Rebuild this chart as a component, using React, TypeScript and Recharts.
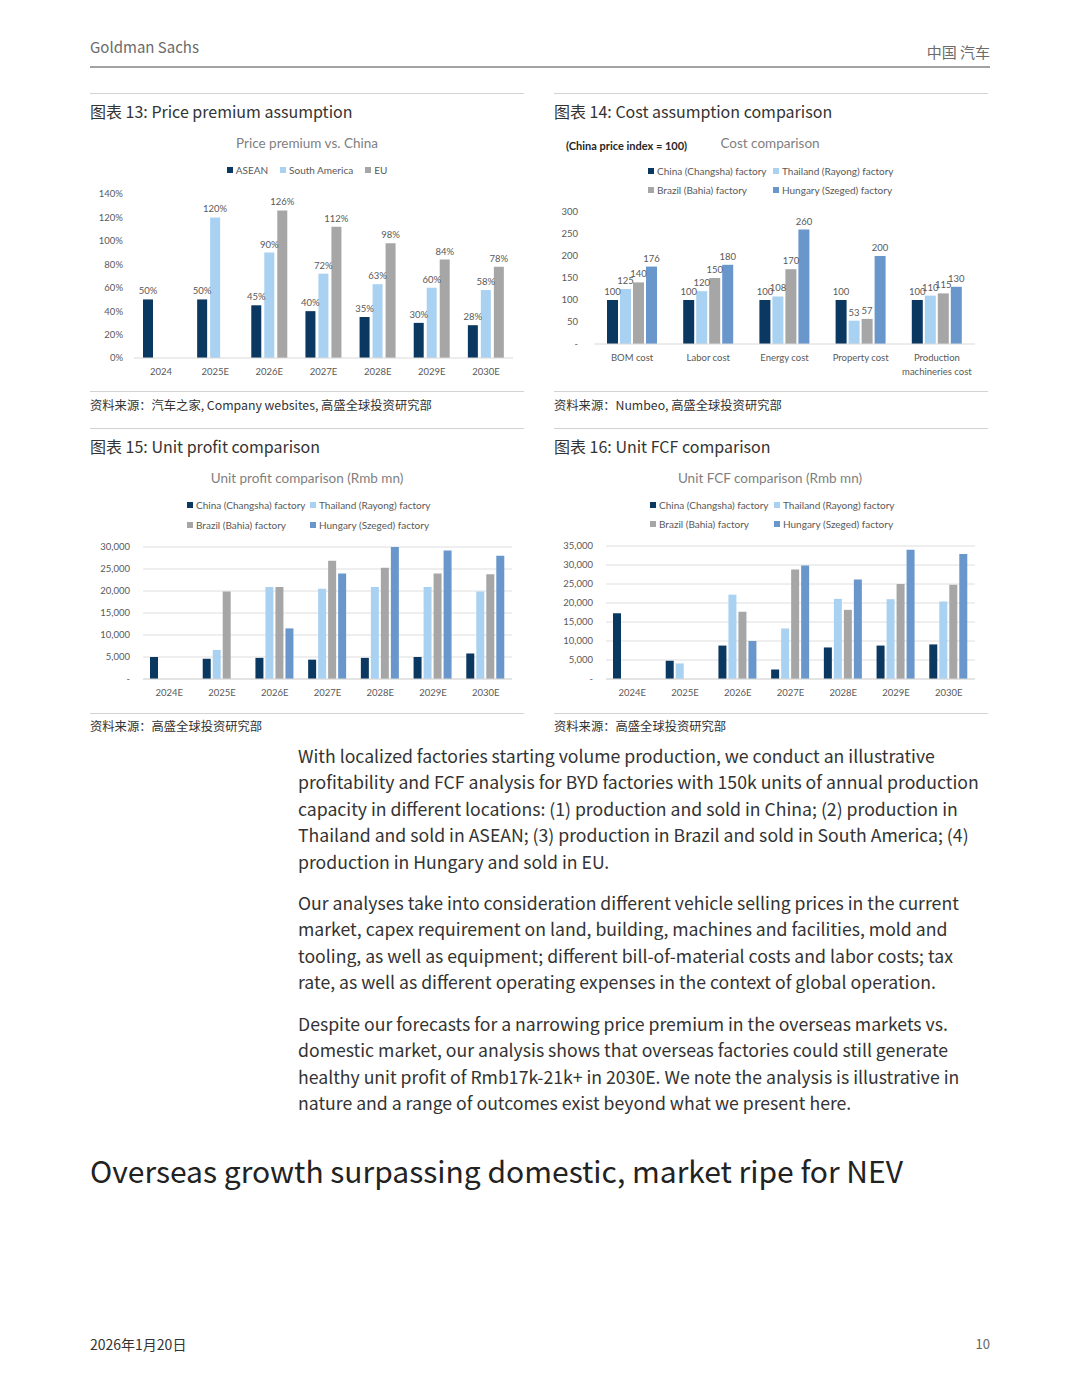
import React from 'react';
import { BarChart, Bar, XAxis, YAxis, CartesianGrid, LabelList, Legend } from 'recharts';

// ---------- Colours ----------
const NAVY = '#0b3861';
const LIGHT = '#a9d1f1';
const GRAY = '#a6a6a6';
const MID = '#6a97cb';
const AXIS_TEXT = '#595959';
const FONT_PAGE = '"Noto Sans CJK SC", "Noto Sans", sans-serif';
const FONT_CHART = 'Lato, "Liberation Sans", sans-serif';

// ---------- Chart 13: Price premium ----------
const premiumYears = ['2024', '2025E', '2026E', '2027E', '2028E', '2029E', '2030E'];
const aseanPremium = [50, 50, 45, 40, 35, 30, 28];
const southAmericaPremium = [null, 120, 90, 72, 63, 60, 58];
const euPremium = [null, null, 126, 112, 98, 84, 78];
const premiumTicks = [0, 20, 40, 60, 80, 100, 120, 140];

// ---------- Chart 14: Cost comparison ----------
const costCategories = ['BOM cost', 'Labor cost', 'Energy cost', 'Property cost', 'Production machineries cost'];
const costTickLabels = [['BOM cost'], ['Labor cost'], ['Energy cost'], ['Property cost'], ['Production', 'machineries cost']];
const chinaCost = [100, 100, 100, 100, 100];
const thailandCost = [125, 120, 108, 53, 110];
const brazilCost = [140, 150, 170, 57, 115];
const hungaryCost = [176, 180, 260, 200, 130];
const costTicks = [0, 50, 100, 150, 200, 250, 300];

// ---------- Chart 15: Unit profit ----------
const profitYears = ['2024E', '2025E', '2026E', '2027E', '2028E', '2029E', '2030E'];
const chinaProfit = [5000, 4600, 4800, 4400, 4800, 5000, 5800];
const thailandProfit = [null, 6600, 20900, 20500, 20900, 20900, 19900];
const brazilProfit = [null, 19900, 20900, 26900, 25300, 24000, 23800];
const hungaryProfit = [null, null, 11500, 24000, 30000, 29200, 28000];
const profitTicks = [0, 5000, 10000, 15000, 20000, 25000, 30000];

// ---------- Chart 16: Unit FCF ----------
const fcfYears = ['2024E', '2025E', '2026E', '2027E', '2028E', '2029E', '2030E'];
const chinaFcf = [17300, 4800, 8800, 2500, 8300, 8800, 9100];
const thailandFcf = [null, 4100, 22200, 13300, 21100, 21000, 20400];
const brazilFcf = [null, null, 17700, 28800, 18200, 25000, 24800];
const hungaryFcf = [null, null, 10000, 29900, 26200, 34000, 32900];
const fcfTicks = [0, 5000, 10000, 15000, 20000, 25000, 30000, 35000];

const factoryNames = ['China (Changsha) factory', 'Thailand (Rayong) factory', 'Brazil (Bahia) factory', 'Hungary (Szeged) factory'];

const premiumData = premiumYears.map((y, i) => ({
  year: y,
  asean: aseanPremium[i],
  sa: southAmericaPremium[i],
  eu: euPremium[i],
}));
const costData = costCategories.map((c, i) => ({
  cat: c,
  idx: i,
  china: chinaCost[i],
  thailand: thailandCost[i],
  brazil: brazilCost[i],
  hungary: hungaryCost[i],
}));
const profitData = profitYears.map((y, i) => ({
  year: y,
  china: chinaProfit[i],
  thailand: thailandProfit[i],
  brazil: brazilProfit[i],
  hungary: hungaryProfit[i],
}));
const fcfData = fcfYears.map((y, i) => ({
  year: y,
  china: chinaFcf[i],
  thailand: thailandFcf[i],
  brazil: brazilFcf[i],
  hungary: hungaryFcf[i],
}));

type LItem = { name: string; color: string };

const makeLegend = (rows: LItem[][], rowTops: number[], colLefts: number[] | null, width: number) => () => (
  <div style={{ position: 'relative', width, height: 80, fontFamily: FONT_CHART, fontSize: 10, color: AXIS_TEXT }}>
    {rows.map((row, r) => (
      <div
        key={r}
        style={{
          position: 'absolute',
          top: rowTops[r] - 6,
          left: 0,
          width,
          height: 12,
          lineHeight: '12px',
          display: colLefts ? 'block' : 'flex',
          justifyContent: 'center',
          gap: 12,
        }}
      >
        {row.map((it, i) => (
          <span
            key={i}
            style={
              colLefts
                ? { position: 'absolute', left: colLefts[i], top: 0, whiteSpace: 'nowrap', display: 'flex', alignItems: 'center' }
                : { whiteSpace: 'nowrap', display: 'flex', alignItems: 'center' }
            }
          >
            <span style={{ width: 6, height: 6, background: it.color, marginRight: 3, display: 'inline-block' }} />
            {it.name}
          </span>
        ))}
      </div>
    ))}
  </div>
);

const tickStyle = { fontSize: 9.5, fill: AXIS_TEXT, fontFamily: FONT_CHART };
const labelStyle = { fontSize: 9.5, fill: AXIS_TEXT, fontFamily: FONT_CHART };

const fmtThousands = (v: number) => (v === 0 ? '-' : v.toLocaleString('en-US'));

const CostTick = (props: any) => {
  const { x, y, payload } = props;
  const lines = costTickLabels[payload.index] || [String(payload.value)];
  return (
    <text x={x} y={y} textAnchor="middle" fill={AXIS_TEXT} fontSize={9.5} fontFamily={FONT_CHART}>
      {lines.map((l, i) => (
        <tspan key={i} x={x} dy={i === 0 ? '0.71em' : 14}>
          {l}
        </tspan>
      ))}
    </text>
  );
};

const abs = (left: number, top: number, extra: React.CSSProperties = {}): React.CSSProperties => ({
  position: 'absolute',
  left,
  top,
  ...extra,
});

const Rule = ({ x, y, w, color = '#d3d3d3', h = 1 }: { x: number; y: number; w: number; color?: string; h?: number }) => (
  <div style={abs(x, y, { width: w, height: h, background: color })} />
);

const PanelTitle = ({ x, y, text }: { x: number; y: number; text: string }) => (
  <div style={abs(x, y, { fontFamily: FONT_PAGE, fontSize: 16, color: '#333', whiteSpace: 'nowrap', lineHeight: '20px' })}>{text}</div>
);

const Source = ({ x, y, text }: { x: number; y: number; text: string }) => (
  <div style={abs(x, y, { fontFamily: FONT_PAGE, fontSize: 12.3, color: '#333', whiteSpace: 'nowrap', lineHeight: '16px' })}>{text}</div>
);

const ChartTitle = ({ cx, cy, text }: { cx: number; cy: number; text: string }) => (
  <div
    style={abs(cx - 150, cy - 8, {
      width: 300,
      textAlign: 'center',
      fontFamily: FONT_CHART,
      fontSize: 13.5,
      color: '#7f7f7f',
      lineHeight: '16px',
      whiteSpace: 'nowrap',
    })}
  >
    {text}
  </div>
);

const para1 = [
  'With localized factories starting volume production, we conduct an illustrative',
  'profitability and FCF analysis for BYD factories with 150k units of annual production',
  'capacity in different locations: (1) production and sold in China; (2) production in',
  'Thailand and sold in ASEAN; (3) production in Brazil and sold in South America; (4)',
  'production in Hungary and sold in EU.',
];
const para2 = [
  'Our analyses take into consideration different vehicle selling prices in the current',
  'market, capex requirement on land, building, machines and facilities, mold and',
  'tooling, as well as equipment; different bill-of-material costs and labor costs; tax',
  'rate, as well as different operating expenses in the context of global operation.',
];
const para3 = [
  'Despite our forecasts for a narrowing price premium in the overseas markets vs.',
  'domestic market, our analysis shows that overseas factories could still generate',
  'healthy unit profit of Rmb17k-21k+ in 2030E. We note the analysis is illustrative in',
  'nature and a range of outcomes exist beyond what we present here.',
];

const Para = ({ top, lines }: { top: number; lines: string[] }) => (
  <div style={abs(298, top, { fontFamily: FONT_PAGE, fontSize: 17.65, color: '#333', lineHeight: '26.4px', whiteSpace: 'nowrap' })}>
    {lines.map((l, i) => (
      <div key={i}>{l}</div>
    ))}
  </div>
);

export default function App() {
  const factoryItems: LItem[] = [
    { name: factoryNames[0], color: NAVY },
    { name: factoryNames[1], color: LIGHT },
    { name: factoryNames[2], color: GRAY },
    { name: factoryNames[3], color: MID },
  ];
  const factoryRows = [
    [factoryItems[0], factoryItems[1]],
    [factoryItems[2], factoryItems[3]],
  ];

  return (
    <div style={{ position: 'absolute', left: 0, top: 0, width: 1080, height: 1397, background: '#fff', overflow: 'hidden' }}>
      {/* Header */}
      <div style={abs(90, 37, { fontFamily: FONT_PAGE, fontSize: 15, color: '#6b6b6b', lineHeight: '20px' })}>Goldman Sachs</div>
      <div style={abs(790, 42, { width: 200, textAlign: 'right', fontFamily: FONT_PAGE, fontSize: 15, color: '#6b6b6b', lineHeight: '20px' })}>
        中国 汽车
      </div>
      <Rule x={90} y={66} w={900} color="#a3a3a3" h={1.5} />

      {/* Top rules */}
      <Rule x={90} y={93} w={434} />
      <Rule x={554} y={93} w={434} />
      <PanelTitle x={90} y={101} text="图表 13: Price premium assumption" />
      <PanelTitle x={554} y={101} text="图表 14: Cost assumption comparison" />

      {/* Chart 13 */}
      <ChartTitle cx={307} cy={143} text="Price premium  vs. China" />
      <div style={abs(90, 130)}>
        <BarChart width={434} height={260} data={premiumData} margin={{ top: 64, right: 11, left: 0, bottom: 12 }} barGap={3} barSize={10}>
          <XAxis
            dataKey="year"
            tick={tickStyle}
            tickLine={false}
            axisLine={{ stroke: '#d9d9d9' }}
            tickMargin={4}
            height={20}
            interval={0}
          />
          <YAxis
            width={44}
            domain={[0, 140]}
            ticks={premiumTicks}
            tickFormatter={(v: number) => `${v}%`}
            tick={tickStyle}
            tickLine={false}
            axisLine={false}
            tickMargin={5}
            interval={0}
          />
          <Legend
            layout="horizontal"
            verticalAlign="middle"
            align="center"
            wrapperStyle={{ top: 0, left: 0, width: 434, height: 80 }}
            content={makeLegend([[{ name: 'ASEAN', color: NAVY }, { name: 'South America', color: LIGHT }, { name: 'EU', color: GRAY }]], [40], null, 434)}
          />
          <Bar dataKey="asean" name="ASEAN" fill={NAVY} isAnimationActive={false}>
            <LabelList dataKey="asean" position="top" formatter={(v: any) => (v == null ? '' : `${v}%`)} style={labelStyle} />
          </Bar>
          <Bar dataKey="sa" name="South America" fill={LIGHT} isAnimationActive={false}>
            <LabelList dataKey="sa" position="top" formatter={(v: any) => (v == null ? '' : `${v}%`)} style={labelStyle} />
          </Bar>
          <Bar dataKey="eu" name="EU" fill={GRAY} isAnimationActive={false}>
            <LabelList dataKey="eu" position="top" formatter={(v: any) => (v == null ? '' : `${v}%`)} style={labelStyle} />
          </Bar>
        </BarChart>
      </div>

      {/* Chart 14 */}
      <div style={abs(566, 138, { fontFamily: FONT_CHART, fontSize: 11, fontWeight: 700, color: '#262626', lineHeight: '16px', whiteSpace: 'nowrap' })}>
        (China price index = 100)
      </div>
      <ChartTitle cx={770} cy={143} text="Cost comparison" />
      <div style={abs(554, 130)}>
        <BarChart width={434} height={260} data={costData} margin={{ top: 82, right: 13, left: 0, bottom: 16 }} barGap={2} barSize={11}>
          <XAxis
            dataKey="cat"
            tick={<CostTick />}
            tickLine={false}
            axisLine={{ stroke: '#d9d9d9' }}
            tickMargin={4}
            height={30}
            interval={0}
          />
          <YAxis
            width={40}
            domain={[0, 300]}
            ticks={costTicks}
            tickFormatter={(v: number) => (v === 0 ? '-' : String(v))}
            tick={tickStyle}
            tickLine={false}
            axisLine={false}
            tickMargin={10}
            interval={0}
          />
          <Legend
            layout="horizontal"
            verticalAlign="middle"
            align="center"
            wrapperStyle={{ top: 0, left: 0, width: 434, height: 80 }}
            content={makeLegend(factoryRows, [41, 60], [94, 219], 434)}
          />
          <Bar dataKey="china" fill={NAVY} isAnimationActive={false}>
            <LabelList dataKey="china" position="top" style={labelStyle} />
          </Bar>
          <Bar dataKey="thailand" fill={LIGHT} isAnimationActive={false}>
            <LabelList dataKey="thailand" position="top" style={labelStyle} />
          </Bar>
          <Bar dataKey="brazil" fill={GRAY} isAnimationActive={false}>
            <LabelList dataKey="brazil" position="top" style={labelStyle} />
          </Bar>
          <Bar dataKey="hungary" fill={MID} isAnimationActive={false}>
            <LabelList dataKey="hungary" position="top" style={labelStyle} />
          </Bar>
        </BarChart>
      </div>

      {/* Sources row 1 */}
      <Rule x={90} y={391} w={434} />
      <Rule x={554} y={391} w={434} />
      <Source x={90} y={397} text="资料来源：汽车之家, Company websites, 高盛全球投资研究部" />
      <Source x={554} y={397} text="资料来源：Numbeo, 高盛全球投资研究部" />

      <Rule x={90} y={428} w={434} />
      <Rule x={554} y={428} w={434} />
      <PanelTitle x={90} y={436} text="图表 15: Unit profit comparison" />
      <PanelTitle x={554} y={436} text="图表 16: Unit FCF comparison" />

      {/* Chart 15 */}
      <ChartTitle cx={307} cy={478} text="Unit profit comparison (Rmb mn)" />
      <div style={abs(90, 465)}>
        <BarChart width={434} height={245} data={profitData} margin={{ top: 82, right: 12, left: 0, bottom: 11 }} barGap={2} barSize={8}>
          <CartesianGrid vertical={false} stroke="#dedede" />
          <XAxis
            dataKey="year"
            tick={tickStyle}
            tickLine={false}
            axisLine={{ stroke: '#d9d9d9' }}
            tickMargin={4}
            height={20}
            interval={0}
          />
          <YAxis
            width={53}
            domain={[0, 30000]}
            ticks={profitTicks}
            tickFormatter={fmtThousands}
            tick={tickStyle}
            tickLine={false}
            axisLine={false}
            tickMargin={7}
            interval={0}
          />
          <Legend
            layout="horizontal"
            verticalAlign="middle"
            align="center"
            wrapperStyle={{ top: 0, left: 0, width: 434, height: 80 }}
            content={makeLegend(factoryRows, [40, 60], [97, 220], 434)}
          />
          <Bar dataKey="china" fill={NAVY} isAnimationActive={false} />
          <Bar dataKey="thailand" fill={LIGHT} isAnimationActive={false} />
          <Bar dataKey="brazil" fill={GRAY} isAnimationActive={false} />
          <Bar dataKey="hungary" fill={MID} isAnimationActive={false} />
        </BarChart>
      </div>

      {/* Chart 16 */}
      <ChartTitle cx={770} cy={478} text="Unit FCF comparison (Rmb mn)" />
      <div style={abs(554, 465)}>
        <BarChart width={434} height={245} data={fcfData} margin={{ top: 81, right: 13, left: 0, bottom: 11 }} barGap={2} barSize={8}>
          <CartesianGrid vertical={false} stroke="#dedede" />
          <XAxis
            dataKey="year"
            tick={tickStyle}
            tickLine={false}
            axisLine={{ stroke: '#d9d9d9' }}
            tickMargin={4}
            height={20}
            interval={0}
          />
          <YAxis
            width={52}
            domain={[0, 35000]}
            ticks={fcfTicks}
            tickFormatter={fmtThousands}
            tick={tickStyle}
            tickLine={false}
            axisLine={false}
            tickMargin={7}
            interval={0}
          />
          <Legend
            layout="horizontal"
            verticalAlign="middle"
            align="center"
            wrapperStyle={{ top: 0, left: 0, width: 434, height: 80 }}
            content={makeLegend(factoryRows, [40, 59], [96, 220], 434)}
          />
          <Bar dataKey="china" fill={NAVY} isAnimationActive={false} />
          <Bar dataKey="thailand" fill={LIGHT} isAnimationActive={false} />
          <Bar dataKey="brazil" fill={GRAY} isAnimationActive={false} />
          <Bar dataKey="hungary" fill={MID} isAnimationActive={false} />
        </BarChart>
      </div>

      {/* Sources row 2 */}
      <Rule x={90} y={713} w={434} />
      <Rule x={554} y={713} w={434} />
      <Source x={90} y={718} text="资料来源：高盛全球投资研究部" />
      <Source x={554} y={718} text="资料来源：高盛全球投资研究部" />

      {/* Body text */}
      <Para top={743} lines={para1} />
      <Para top={890} lines={para2} />
      <Para top={1011} lines={para3} />

      <div style={abs(90, 1150, { fontFamily: FONT_PAGE, fontSize: 30, fontWeight: 400, color: '#222', lineHeight: '40px', whiteSpace: 'nowrap' })}>
        Overseas growth surpassing domestic, market ripe for NEV
      </div>

      {/* Footer */}
      <div style={abs(90, 1335, { fontFamily: FONT_PAGE, fontSize: 14, color: '#333', lineHeight: '18px' })}>2026年1月20日</div>
      <div style={abs(890, 1335, { width: 100, textAlign: 'right', fontFamily: FONT_PAGE, fontSize: 13, color: '#666', lineHeight: '18px' })}>10</div>
    </div>
  );
}
